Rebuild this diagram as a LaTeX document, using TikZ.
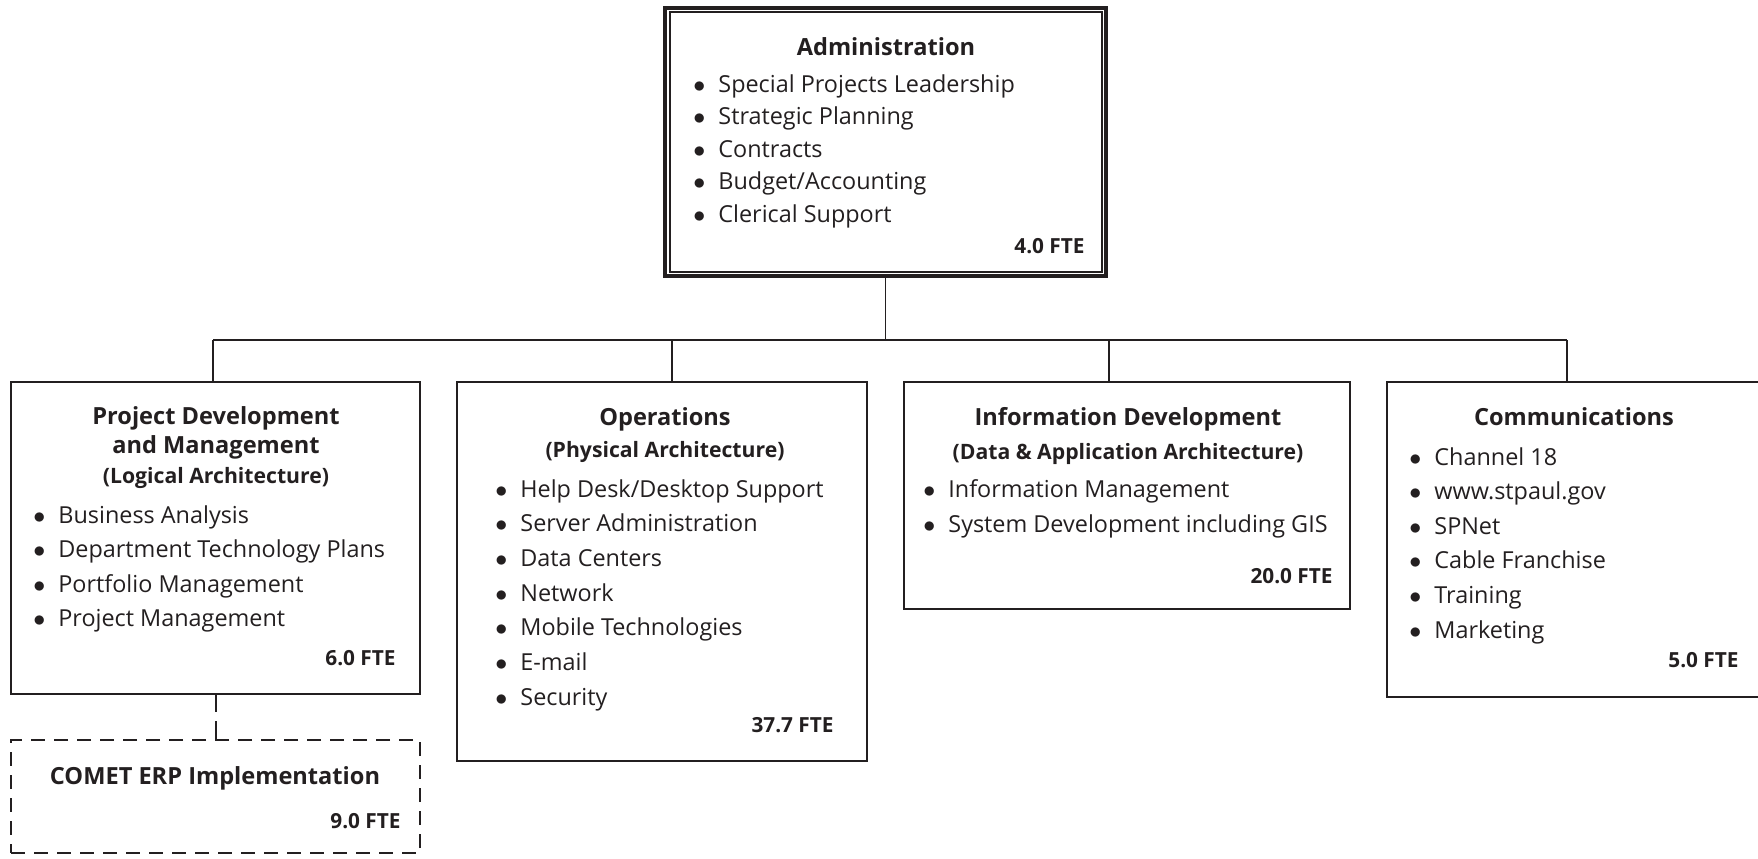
\documentclass[tikz,border=0pt]{standalone}
\usepackage{fontspec}
\setmainfont{Open Sans}
\definecolor{ink}{RGB}{35,31,32}
\newcommand\bl{\llap{$\bullet$\hspace{6.5pt}}}
\begin{document}
\begin{tikzpicture}[x=0.5pt,y=-0.5pt,
  box/.style={draw=ink, line width=1pt, rectangle, inner sep=0pt, outer sep=0pt, anchor=north west},
  dbox/.style={box, dash pattern=on 7pt off 4.5pt},
  conn/.style={draw=ink, line width=0.7pt},
  dconn/.style={draw=ink, line width=1pt, dash pattern=on 9pt off 4.5pt},
  ttl/.style={text=ink, font=\fontsize{11.8}{14}\selectfont\bfseries, anchor=base, inner sep=0pt},
  sub/.style={text=ink, font=\fontsize{10.6}{14}\selectfont\bfseries, anchor=base, inner sep=0pt},
  itm/.style={text=ink, font=\fontsize{11.7}{14}\selectfont, anchor=base west, inner sep=0pt},
  fte/.style={text=ink, font=\fontsize{10.4}{14}\selectfont\bfseries, anchor=base east, inner sep=0pt}]
\useasboundingbox (0,0) rectangle (1758,858);
\clip (0,0) rectangle (1758,858);

% Administration
\node[box, line width=2pt, minimum width=220.5pt, minimum height=134pt] (admin) at (665,8) {};
\node[box, line width=0.7pt, minimum width=216pt, minimum height=130pt] (admininner) at (670,12) {};
\node[ttl] (at) at (886,55) {Administration};
\node[itm] (a1) at (718,92) {\bl Special Projects Leadership};
\node[itm] (a2) at (718,124.5) {\bl Strategic Planning};
\node[itm] (a3) at (718,157) {\bl Contracts};
\node[itm] (a4) at (718,189.5) {\bl Budget/Accounting};
\node[itm] (a5) at (718,222) {\bl Clerical Support};
\node[fte] (af) at (1085,253) {4.0 FTE};

% Project Development and Management
\node[box, minimum width=204.5pt, minimum height=156pt] (pdm) at (11,382) {};
\node[ttl] (pt1) at (216,424) {Project Development};
\node[ttl] (pt2) at (216,453) {and Management};
\node[sub] (pt3) at (216,483) {(Logical Architecture)};
\node[itm] (p1) at (58,523) {\bl Business Analysis};
\node[itm] (p2) at (58,557.5) {\bl Department Technology Plans};
\node[itm] (p3) at (58,592) {\bl Portfolio Management};
\node[itm] (p4) at (58,626.5) {\bl Project Management};
\node[fte] (pf) at (396,665) {6.0 FTE};

% COMET
\node[dbox, minimum width=204.5pt, minimum height=56.5pt] (comet) at (11,740) {};
\node[ttl] (ct) at (215,784) {COMET ERP Implementation};
\node[fte] (cf) at (401,828) {9.0 FTE};

% Operations
\node[box, minimum width=205pt, minimum height=189.5pt] (ops) at (457,382) {};
\node[ttl] (ot1) at (665,425) {Operations};
\node[sub] (ot2) at (665,457) {(Physical Architecture)};
\node[itm] (o1) at (520,497) {\bl Help Desk/Desktop Support};
\node[itm] (o2) at (520,531.7) {\bl Server Administration};
\node[itm] (o3) at (520,566.4) {\bl Data Centers};
\node[itm] (o4) at (520,601.1) {\bl Network};
\node[itm] (o5) at (520,635.8) {\bl Mobile Technologies};
\node[itm] (o6) at (520,670.5) {\bl E-mail};
\node[itm] (o7) at (520,705.2) {\bl Security};
\node[fte] (of) at (834,732) {37.7 FTE};

% Information Development
\node[box, minimum width=223pt, minimum height=113.5pt] (info) at (904,382) {};
\node[ttl] (it1) at (1128,425) {Information Development};
\node[sub] (it2) at (1128,459) {(Data \& Application Architecture)};
\node[itm] (i1) at (948,497) {\bl Information Management};
\node[itm] (i2) at (948,532) {\bl System Development including GIS};
\node[fte] (if) at (1333,583) {20.0 FTE};

% Communications
\node[box, minimum width=205pt, minimum height=157.5pt] (comm) at (1387,382) {};
\node[ttl] (mt) at (1574,425) {Communications};
\node[itm] (m1) at (1434,465) {\bl Channel 18};
\node[itm] (m2) at (1434,499.6) {\bl www.stpaul.gov};
\node[itm] (m3) at (1434,534.2) {\bl SPNet};
\node[itm] (m4) at (1434,568.8) {\bl Cable Franchise};
\node[itm] (m5) at (1434,603.4) {\bl Training};
\node[itm] (m6) at (1434,638) {\bl Marketing};
\node[fte] (mf) at (1739,667) {5.0 FTE};

% connectors
\coordinate (b1) at (213,340);
\coordinate (b2) at (672,340);
\coordinate (b3) at (1109,340);
\coordinate (b4) at (1567,340);
\draw[conn] (admin.south) -- (admin.south |- b1);
\draw[conn] (b1) -- (b4);
\draw[conn] (b1) -- (b1 |- pdm.north);
\draw[conn] (b2) -- (b2 |- ops.north);
\draw[conn] (b3) -- (b3 |- info.north);
\draw[conn] (b4) -- (b4 |- comm.north);
\draw[dconn] (pdm.south) -- (comet.north);
\end{tikzpicture}
\end{document}
